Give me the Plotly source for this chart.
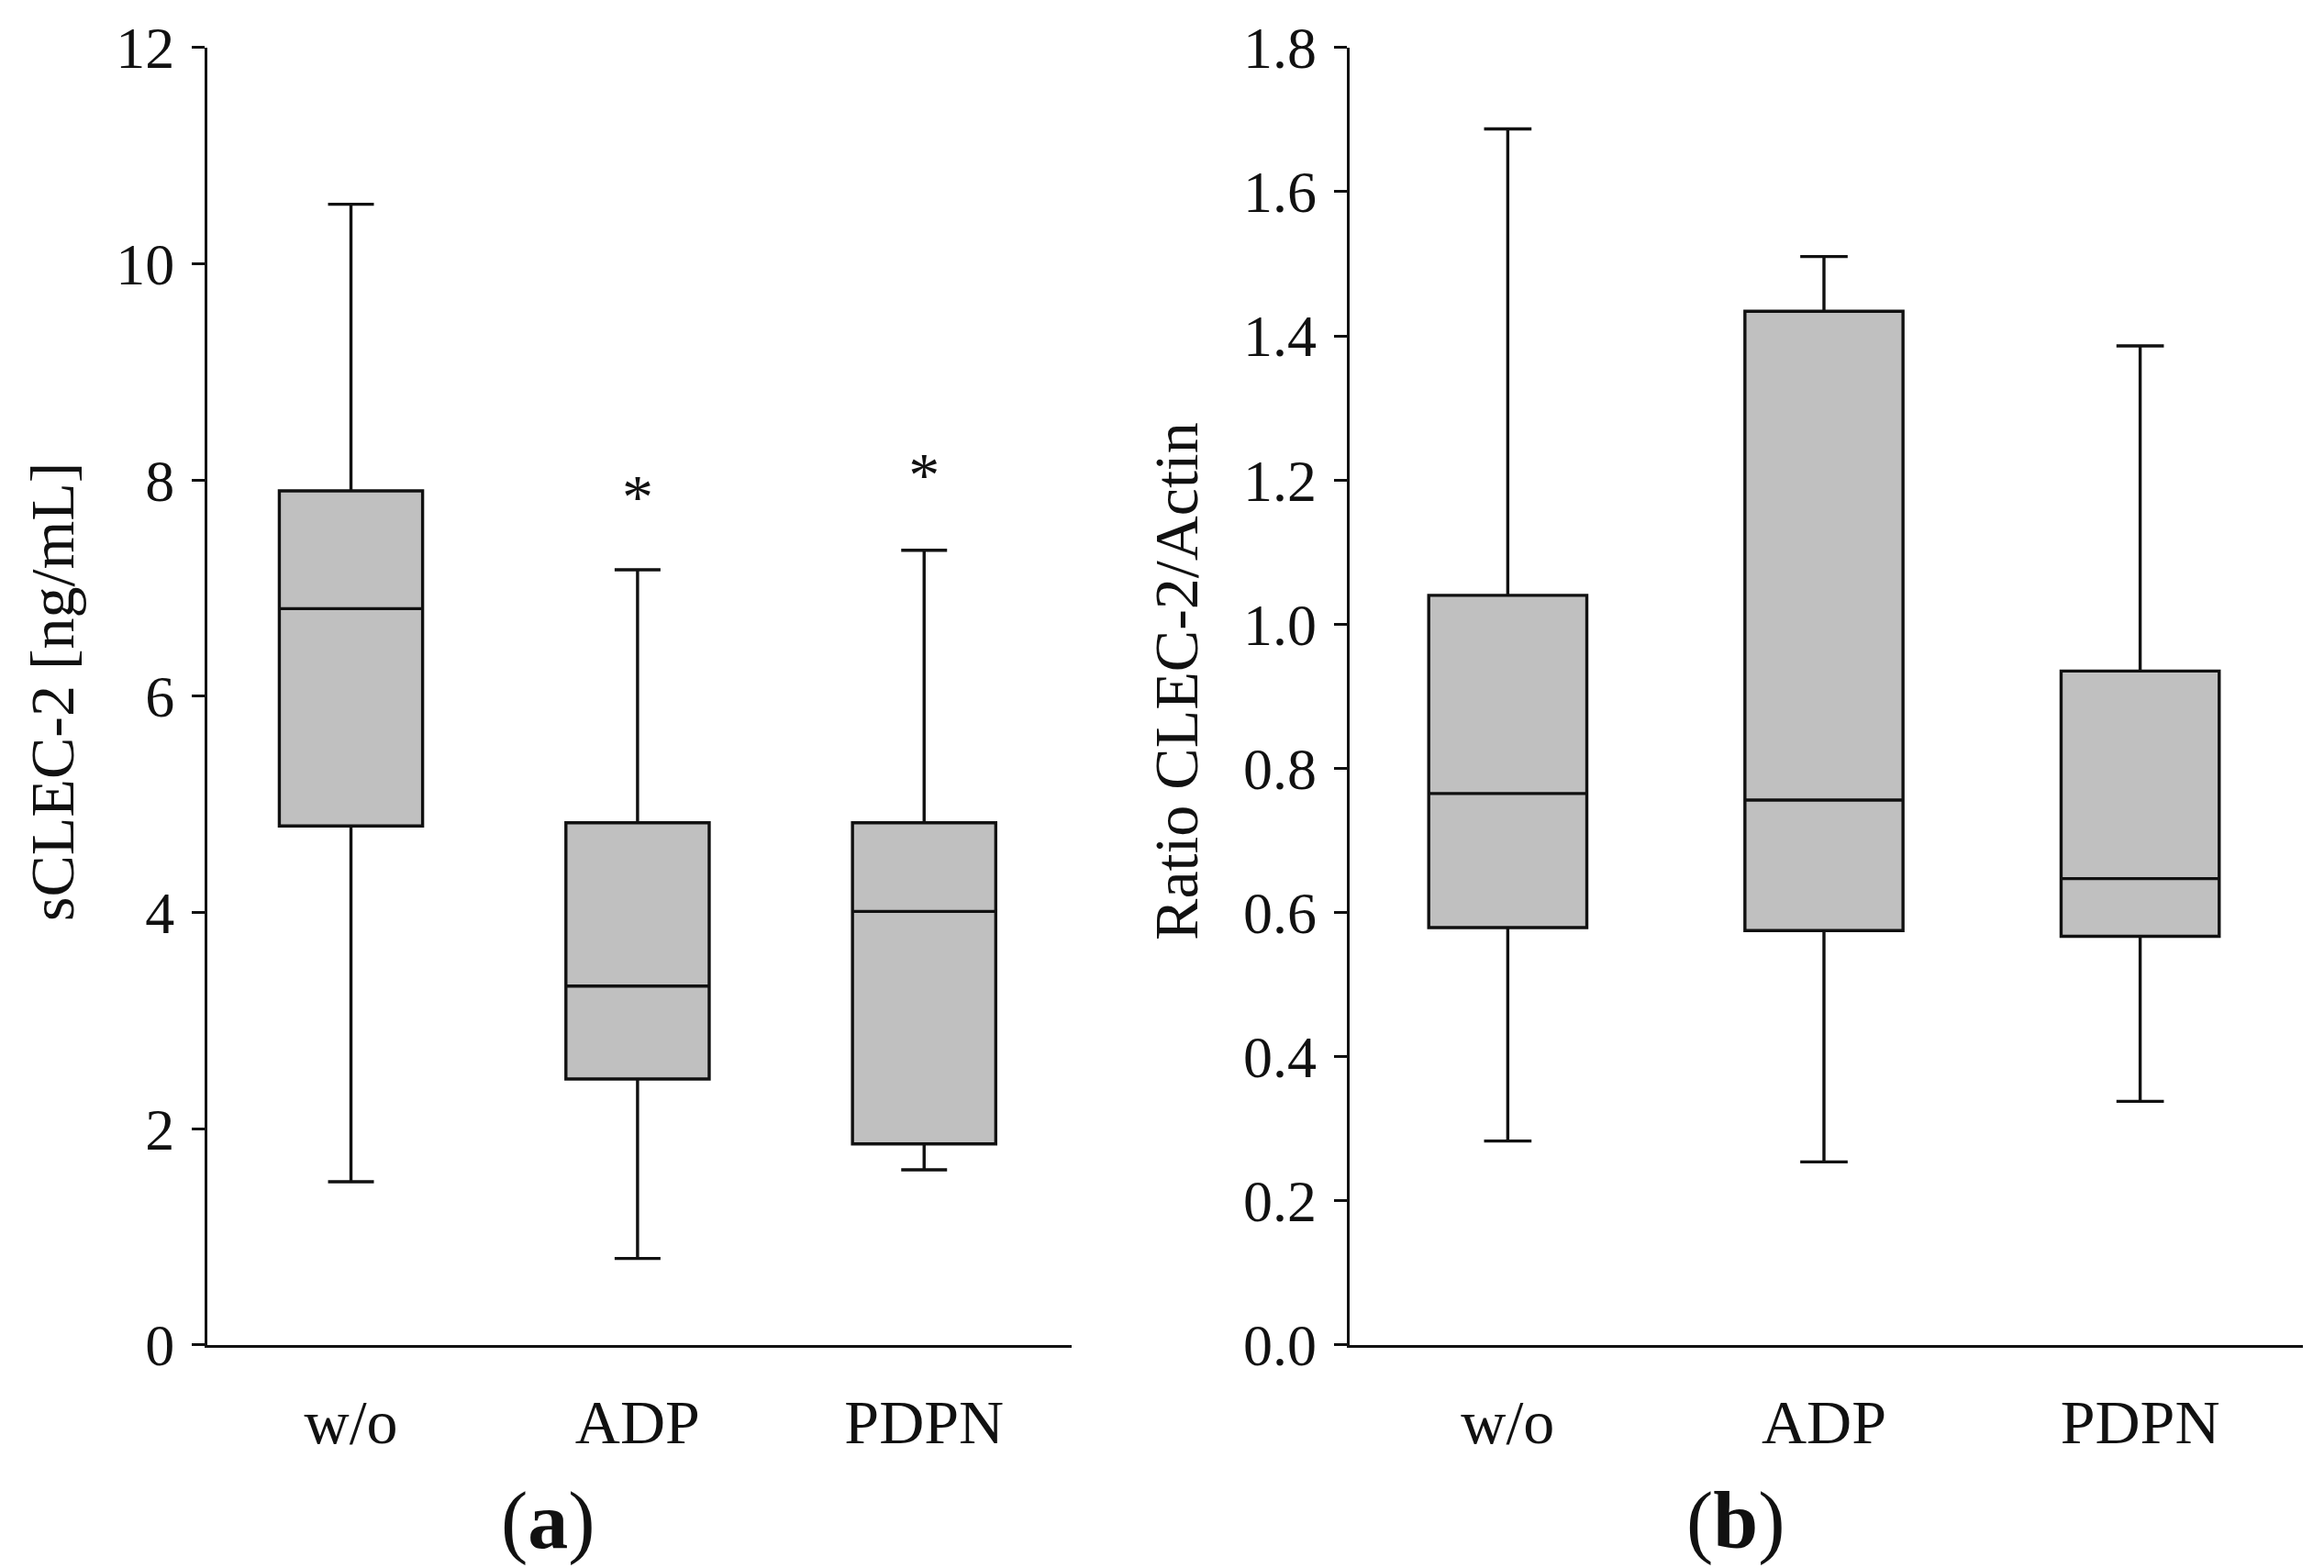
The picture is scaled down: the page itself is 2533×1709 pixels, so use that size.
import plotly.graph_objects as go

# panel (a): soluble CLEC-2
groups = ["w/o", "ADP", "PDPN"]
sclec_low = [1.51, 0.80, 1.62]
sclec_q1 = [4.80, 2.46, 1.86]
sclec_med = [6.81, 3.32, 4.01]
sclec_q3 = [7.90, 4.83, 4.83]
sclec_high = [10.55, 7.17, 7.35]
star_groups = ["ADP", "PDPN"]
star_y = [7.80, 8.0]

# panel (b): CLEC-2 / actin ratio
ratio_low = [0.283, 0.254, 0.338]
ratio_q1 = [0.579, 0.575, 0.567]
ratio_med = [0.765, 0.756, 0.647]
ratio_q3 = [1.040, 1.434, 0.935]
ratio_high = [1.687, 1.510, 1.386]

FONT = "Liberation Serif"
INK = "#111111"
GREY = "#c0c0c0"

fig = go.Figure()

fig.add_trace(go.Box(
    x=groups, q1=sclec_q1, median=sclec_med, q3=sclec_q3,
    lowerfence=sclec_low, upperfence=sclec_high,
    width=0.5, whiskerwidth=0.32, fillcolor=GREY,
    line=dict(color=INK, width=3.4), boxpoints=False,
    xaxis="x", yaxis="y", showlegend=False,
))
fig.add_trace(go.Scatter(
    x=star_groups, y=star_y, mode="text", text=["*"] * len(star_groups),
    textfont=dict(family=FONT, size=68, color=INK),
    xaxis="x", yaxis="y", showlegend=False,
))
fig.add_trace(go.Box(
    x=groups, q1=ratio_q1, median=ratio_med, q3=ratio_q3,
    lowerfence=ratio_low, upperfence=ratio_high,
    width=0.5, whiskerwidth=0.3, fillcolor=GREY,
    line=dict(color=INK, width=3.4), boxpoints=False,
    xaxis="x2", yaxis="y2", showlegend=False,
))

xcommon = dict(
    showline=True, linecolor=INK, linewidth=3.4, ticks="",
    showgrid=False, zeroline=False, range=[-0.5, 2.515],
    tickfont=dict(family=FONT, size=68, color=INK),
    ticklabelstandoff=22, automargin=False,
)
ycommon = dict(
    showline=True, linecolor=INK, linewidth=3.4, ticks="outside",
    ticklen=14, tickwidth=3.4, tickcolor=INK, showgrid=False,
    zeroline=False, tickfont=dict(family=FONT, size=64, color=INK),
    ticklabelstandoff=6, automargin=False,
)


def label(text, x, y, size, angle=0):
    return dict(text=text, x=x, y=y, xref="paper", yref="paper",
                xanchor="center", yanchor="middle", textangle=angle,
                showarrow=False, font=dict(family=FONT, size=size, color=INK))


# the page body adds an 8px offset, domains below account for it
fig.update_layout(
    width=2533, height=1709,
    margin=dict(l=0, r=0, t=0, b=0),
    paper_bgcolor="white", plot_bgcolor="white",
    font=dict(family=FONT, color=INK),
    xaxis=dict(domain=[0.0862, 0.4580], anchor="y", **xcommon),
    yaxis=dict(
        domain=[0.1469, 0.9744], anchor="x", range=[0, 12],
        tickvals=[0, 2, 4, 6, 8, 10, 12], **ycommon,
    ),
    xaxis2=dict(domain=[0.5776, 0.9878], anchor="y2", **xcommon),
    yaxis2=dict(
        domain=[0.1469, 0.9744], anchor="x2", range=[0, 1.8],
        tickvals=[0, 0.2, 0.4, 0.6, 0.8, 1.0, 1.2, 1.4, 1.6, 1.8],
        tickformat=".1f", **ycommon,
    ),
    annotations=[
        label("sCLEC-2 [ng/mL]", 0.0193, 0.5640, 68, -90),
        label("Ratio CLEC-2/Actin", 0.5030, 0.5700, 68, -90),
        label("(<b>a</b>)", 0.2329, 0.0351, 88),
        label("(<b>b</b>)", 0.7438, 0.0351, 88),
    ],
)

fig.write_html("out.html")
